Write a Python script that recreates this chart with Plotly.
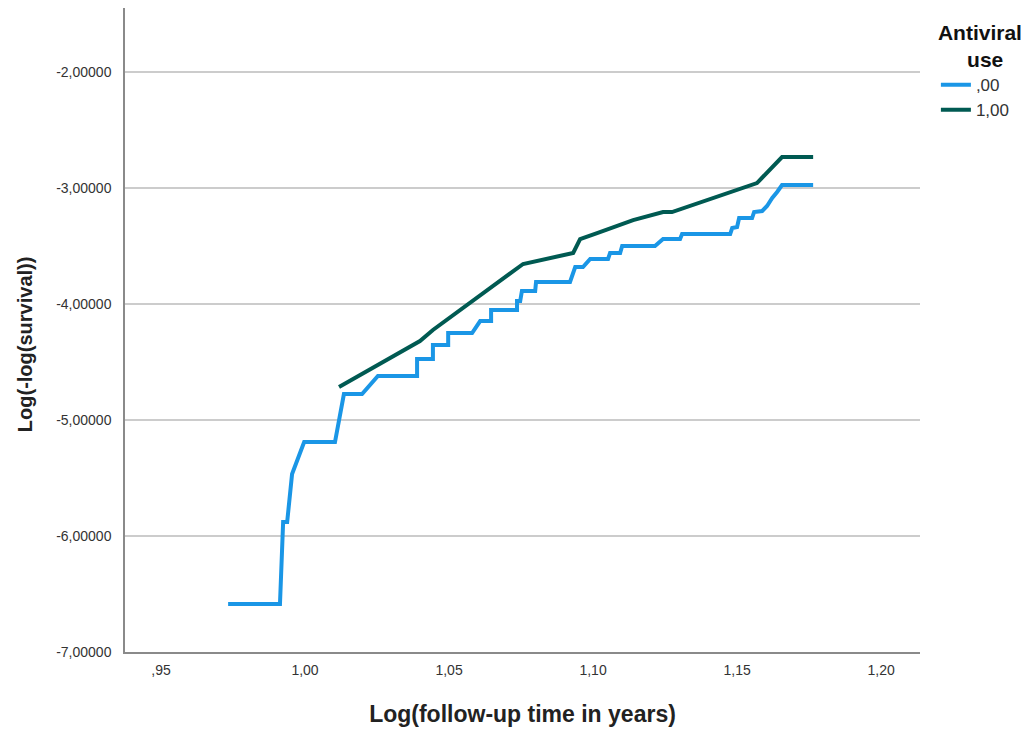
import plotly.graph_objects as go

# ---- data ----
x_no = [0.9733, 0.9913, 0.9924, 0.9938, 0.9955, 0.9997, 1.0104, 1.0135, 1.0198, 1.0253,
        1.0389, 1.0389, 1.0444, 1.0444, 1.0497, 1.0497, 1.0580, 1.0608, 1.0646, 1.0646,
        1.0736, 1.0736, 1.0747, 1.0753, 1.0799, 1.0802, 1.0920, 1.0938, 1.0965, 1.0990,
        1.1052, 1.1059, 1.1094, 1.1101, 1.1215, 1.1243, 1.1302, 1.1309, 1.1476, 1.1483,
        1.1500, 1.1507, 1.1552, 1.1559, 1.1587, 1.1604, 1.1622, 1.1632, 1.1639, 1.1656,
        1.1764]
y_no = [-6.586, -6.586, -5.879, -5.879, -5.466, -5.190, -5.190, -4.776, -4.776, -4.621,
        -4.621, -4.474, -4.474, -4.353, -4.353, -4.250, -4.250, -4.147, -4.147, -4.052,
        -4.052, -3.974, -3.974, -3.888, -3.888, -3.810, -3.810, -3.681, -3.681, -3.612,
        -3.612, -3.560, -3.560, -3.500, -3.500, -3.440, -3.440, -3.397, -3.397, -3.345,
        -3.336, -3.259, -3.259, -3.207, -3.198, -3.155, -3.086, -3.060, -3.034, -2.974,
        -2.974]

x_yes = [1.0118, 1.0399, 1.0444, 1.0757, 1.0931, 1.0955, 1.1014, 1.1139, 1.1243, 1.1274,
         1.1569, 1.1656, 1.1764]
y_yes = [-4.716, -4.319, -4.224, -3.655, -3.560, -3.440, -3.388, -3.276, -3.207, -3.207,
         -2.957, -2.733, -2.733]

series_names = [",00", "1,00"]
x_tickvals = [0.95, 1.00, 1.05, 1.10, 1.15, 1.20]
x_ticktext = [",95", "1,00", "1,05", "1,10", "1,15", "1,20"]
y_tickvals = [-7, -6, -5, -4, -3, -2]
y_ticktext = ["-7,00000", "-6,00000", "-5,00000", "-4,00000", "-3,00000", "-2,00000"]

FONT = "Liberation Sans, Arial, sans-serif"
NB = "&nbsp;"

fig = go.Figure()
fig.add_trace(go.Scatter(x=x_no, y=y_no, mode="lines", name=series_names[0],
                         line=dict(color="#1a96e6", width=4)))
fig.add_trace(go.Scatter(x=x_yes, y=y_yes, mode="lines", name=series_names[1],
                         line=dict(color="#005a52", width=4)))

# page body adds an 8px offset; compensate in the margins
fig.update_layout(
    width=1030, height=730,
    margin=dict(l=117, r=118, t=0, b=86),
    paper_bgcolor="white", plot_bgcolor="white",
    font=dict(family=FONT, color="#222222"),
    legend=dict(
        x=1.02, y=0.993, xanchor="left", yanchor="top",
        title=dict(text="<b>Antiviral<br>" + NB * 5 + "use</b>", side="top",
                   font=dict(size=21, color="#111111", family=FONT)),
        font=dict(size=17, color="#333333", family=FONT),
        itemwidth=30, tracegroupgap=0,
    ),
    xaxis=dict(
        range=[0.9375, 1.2135], tickvals=x_tickvals, ticktext=x_ticktext,
        showgrid=False, zeroline=False,
        showline=True, linecolor="#8a8a8a", linewidth=1.5,
        ticks="", ticklabelstandoff=4,
        tickfont=dict(size=14, color="#333333", family=FONT),
        title=dict(text="<b>Log(follow-up time in years)</b>",
                   font=dict(size=23, color="#222222", family=FONT), standoff=29),
    ),
    yaxis=dict(
        range=[-7, -1.448], tickvals=y_tickvals, ticktext=y_ticktext,
        showgrid=True, gridcolor="#cccccc", gridwidth=1.5, zeroline=False,
        showline=True, linecolor="#8a8a8a", linewidth=1.5,
        ticks="", ticklabelstandoff=9,
        tickfont=dict(size=14, color="#333333", family=FONT),
    ),
    annotations=[dict(
        text="<b>Log(-log(survival))</b>", textangle=-90,
        xref="paper", yref="paper", x=-0.1258, y=0.478,
        xanchor="center", yanchor="middle", showarrow=False,
        font=dict(size=20, color="#222222", family=FONT),
    )],
)

fig.write_html("out.html")
